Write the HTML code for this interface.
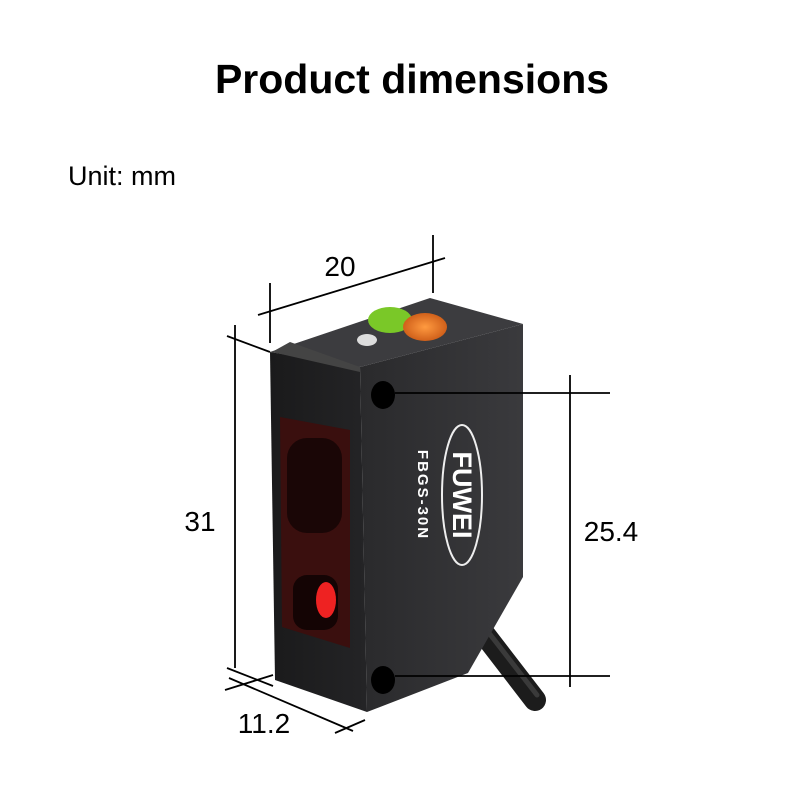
<!DOCTYPE html>
<html><head><style>
body{margin:0;background:#fff;width:800px;height:800px;overflow:hidden;font-family:"Liberation Sans",sans-serif}
</style></head><body>
<svg width="800" height="800" viewBox="0 0 800 800" xmlns="http://www.w3.org/2000/svg">
<defs>
<linearGradient id="side" x1="0" y1="0" x2="1" y2="0"><stop offset="0" stop-color="#2a2a2c"/><stop offset="1" stop-color="#3a3a3d"/></linearGradient>
<linearGradient id="front" x1="0" y1="0" x2="1" y2="0"><stop offset="0" stop-color="#1a1a1b"/><stop offset="1" stop-color="#242426"/></linearGradient>
<radialGradient id="org" cx="0.5" cy="0.5" r="0.5"><stop offset="0" stop-color="#ff9a40"/><stop offset="1" stop-color="#d0601a"/></radialGradient>
</defs>
<text x="412" y="93" font-size="41" font-weight="bold" text-anchor="middle">Product dimensions</text>
<text x="68" y="185" font-size="27">Unit: mm</text>
<line x1="485" y1="635" x2="535" y2="700" stroke="#1c1c1c" stroke-width="22" stroke-linecap="round"/>
<line x1="489" y1="633" x2="537" y2="695" stroke="#3a3a3a" stroke-width="5" stroke-linecap="round"/>
<polygon points="270,352 430,298 523,324 360,367" fill="#3c3c3f"/>
<polygon points="360,367 523,324 523,577 468,673 367,712" fill="url(#side)"/>
<polygon points="270,352 360,367 367,712 275,680" fill="url(#front)"/>
<polygon points="272,352 290,342 360,367 360,372" fill="#444"/>
<polygon points="280,417 350,430 350,648 282,627" fill="#3a0f0e"/>
<rect x="287" y="438" width="55" height="95" rx="20" fill="#1a0606"/>
<rect x="293" y="575" width="45" height="55" rx="14" fill="#140404"/>
<ellipse cx="326" cy="600" rx="10" ry="18" fill="#e22"/>
<ellipse cx="383" cy="395" rx="12" ry="14" fill="#000"/>
<ellipse cx="383" cy="680" rx="12" ry="14" fill="#000"/>
<ellipse cx="462" cy="495" rx="20" ry="70" fill="none" stroke="#eee" stroke-width="2"/>
<text transform="translate(453,495) rotate(90)" font-size="27" font-weight="bold" fill="#fff" text-anchor="middle">FUWEI</text>
<text transform="translate(418,495) rotate(90)" font-size="15" font-weight="bold" fill="#fff" text-anchor="middle" letter-spacing="2">FBGS-30N</text>
<ellipse cx="390" cy="320" rx="22" ry="13" fill="#7ac828"/>
<ellipse cx="425" cy="327" rx="22" ry="14" fill="url(#org)"/>
<ellipse cx="367" cy="340" rx="10" ry="6" fill="#ddd"/>
<g stroke="#000" stroke-width="1.8" fill="none">
<line x1="258" y1="315" x2="445" y2="258"/>
<line x1="270" y1="283" x2="270" y2="343"/>
<line x1="433" y1="235" x2="433" y2="293"/>
<line x1="235" y1="325" x2="235" y2="668"/>
<line x1="227" y1="336" x2="270" y2="352"/>
<line x1="227" y1="668" x2="273" y2="686"/>
<line x1="570" y1="375" x2="570" y2="687"/>
<line x1="395" y1="393" x2="610" y2="393"/>
<line x1="395" y1="676" x2="610" y2="676"/>
<line x1="229" y1="678" x2="353" y2="731"/>
<line x1="225" y1="690" x2="273" y2="675"/>
<line x1="335" y1="733" x2="365" y2="720"/>
</g>
<g font-size="28" fill="#000">
<text x="340" y="276" text-anchor="middle">20</text>
<text x="200" y="531" text-anchor="middle">31</text>
<text x="611" y="541" text-anchor="middle">25.4</text>
<text x="264" y="733" text-anchor="middle">11.2</text>
</g>
</svg>
</body></html>
